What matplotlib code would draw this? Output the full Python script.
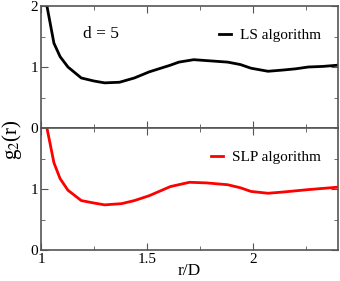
import numpy as np
import matplotlib.pyplot as plt
from matplotlib.ticker import MultipleLocator

# g2(r)
r_ls = [1.01, 1.028, 1.061, 1.09, 1.127, 1.19, 1.25, 1.30, 1.37, 1.44, 1.51, 1.61, 1.65,
        1.72, 1.80, 1.88, 1.94, 1.99, 2.07, 2.14, 2.20, 2.26, 2.33, 2.40]
g_ls = [2.5, 2.0, 1.39, 1.17, 1.0, 0.82, 0.77, 0.74, 0.75, 0.82, 0.92, 1.03, 1.08,
        1.12, 1.10, 1.08, 1.04, 0.98, 0.93, 0.95, 0.97, 1.0, 1.01, 1.03]

r_slp = [1.01, 1.028, 1.061, 1.09, 1.127, 1.19, 1.25, 1.30, 1.38, 1.44, 1.51, 1.61, 1.70,
         1.78, 1.88, 1.94, 1.99, 2.07, 2.14, 2.20, 2.26, 2.33, 2.40]
g_slp = [2.5, 2.0, 1.43, 1.17, 0.98, 0.81, 0.77, 0.74, 0.76, 0.81, 0.89, 1.04, 1.11,
         1.10, 1.07, 1.02, 0.96, 0.93, 0.95, 0.97, 0.99, 1.01, 1.03]

plt.rcParams['font.family'] = ['Liberation Serif', 'DejaVu Serif']
plt.rcParams['mathtext.fontset'] = 'stix'

fig = plt.figure(figsize=(3.4, 2.81), dpi=100)
ax1 = fig.add_axes([41/340, 1-128/281, 297/340, 122/281])
ax2 = fig.add_axes([41/340, 1-250/281, 297/340, 122/281], sharex=ax1)

ax1.plot(r_ls, g_ls, color='black', lw=2, label='LS algorithm')
ax2.plot(r_slp, g_slp, color='red', lw=2, label='SLP algorithm')

for ax in (ax1, ax2):
    ax.set_xlim(1, 2.4)
    ax.xaxis.set_major_locator(MultipleLocator(0.5))
    ax.xaxis.set_minor_locator(MultipleLocator(0.25))
    ax.yaxis.set_minor_locator(MultipleLocator(0.5))
    ax.tick_params(which='both', direction='in', top=True, right=True,
                   color='#555555', labelsize=11, pad=2)
    ax.tick_params(which='major', length=5)
    ax.tick_params(which='minor', length=3)
    for s in ax.spines.values():
        s.set_color('#555555')
        s.set_linewidth(1.2)
    leg = ax.legend(loc='upper right', frameon=False, fontsize=11,
                    handlelength=0.8, handletextpad=0.6,
                    bbox_to_anchor=(0.99, 0.93))

ax1.set_ylim(0, 2)
ax1.set_yticks([0, 1, 2])
ax1.tick_params(labelbottom=False)
ax2.set_ylim(0, 2)
ax2.set_yticks([0, 1])
ax2.set_xticks([1, 1.5, 2])
ax2.set_xticklabels(['1', '1.5', '2'])

ax1.text(0.14, 0.74, 'd = 5', transform=ax1.transAxes, fontsize=12.5)
fig.text(189/340, 1-271/281, 'r/D', fontsize=12.5, ha='center', va='center')
fig.text(12/340, 1-140/281, r'g$_2$(r)', rotation=90, fontsize=15,
         ha='center', va='center')

fig.savefig('out.png', dpi=100)
